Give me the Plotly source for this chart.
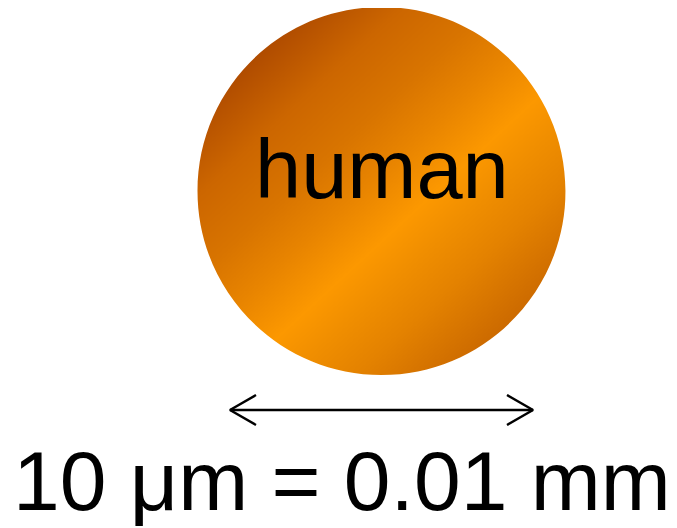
import numpy as np
import plotly.graph_objects as go

# ---- data ----
cell_labels = ["human"]
scale_length_um = [10]
scale_labels = ["10 μm = 0.01 mm"]

# ---- layout constants (pixels, in window coordinates) ----
W, H = 677, 528
OFF = 8  # page body margin
cx, cy, r = 381.5, 191.0, 184.0
px_per_um = 30.3
arrow_x0, arrow_y = 230.0, 410.0
head_dx, head_dy = 26.0, 15.0

fig = go.Figure()

# gradient disc via heatmap
N = 300
xs = np.linspace(cx - r, cx + r, N)
ys = np.linspace(cy - r, cy + r, N)
X, Y = np.meshgrid(xs, ys)
nx, ny = 0.677, 0.735
proj = (X - cx) * nx + (Y - cy) * ny
t = (proj + r) / (2 * r)
fig.add_trace(go.Heatmap(
    x=xs, y=ys, z=t, zmin=0, zmax=1, zsmooth="best", showscale=False,
    hoverinfo="skip",
    colorscale=[[0.0, "#B04C00"], [0.17, "#CC6600"], [0.33, "#D87400"],
                [0.46, "#E88400"], [0.6, "#FC9800"], [0.7, "#F08E00"],
                [0.82, "#E48200"], [1.0, "#CC6A00"]],
))

# white mask outside the circle (evenodd)
k = 0.5523 * r
circle = (f"M {cx-r},{cy} C {cx-r},{cy-k} {cx-k},{cy-r} {cx},{cy-r} "
          f"C {cx+k},{cy-r} {cx+r},{cy-k} {cx+r},{cy} "
          f"C {cx+r},{cy+k} {cx+k},{cy+r} {cx},{cy+r} "
          f"C {cx-k},{cy+r} {cx-r},{cy+k} {cx-r},{cy} Z")
pad = 4
rect = (f"M {cx-r-pad},{cy-r-pad} L {cx+r+pad},{cy-r-pad} "
        f"L {cx+r+pad},{cy+r+pad} L {cx-r-pad},{cy+r+pad} Z ")
fig.add_shape(type="path", path=rect + circle, fillcolor="white",
              fillrule="evenodd", line=dict(width=0), layer="above")

# scale arrow
x1 = arrow_x0 + scale_length_um[0] * px_per_um
line_kw = dict(mode="lines", line=dict(color="black", width=2.5),
               hoverinfo="skip", showlegend=False)
fig.add_trace(go.Scatter(x=[arrow_x0, x1], y=[arrow_y, arrow_y], **line_kw))
fig.add_trace(go.Scatter(x=[arrow_x0 + head_dx, arrow_x0, arrow_x0 + head_dx],
                         y=[arrow_y - head_dy, arrow_y, arrow_y + head_dy], **line_kw))
fig.add_trace(go.Scatter(x=[x1 - head_dx, x1, x1 - head_dx],
                         y=[arrow_y - head_dy, arrow_y, arrow_y + head_dy], **line_kw))

font = "Liberation Sans, Arial, sans-serif"
fig.add_annotation(x=cx, y=169, text=cell_labels[0], showarrow=False,
                   font=dict(family=font, size=83, color="black"),
                   xanchor="center", yanchor="middle")
fig.add_annotation(x=342, y=481, text=scale_labels[0], showarrow=False,
                   font=dict(family=font, size=84, color="black"),
                   xanchor="center", yanchor="middle")

fig.update_xaxes(range=[OFF, W], visible=False, fixedrange=True)
fig.update_yaxes(range=[H, OFF], visible=False, fixedrange=True)
fig.update_layout(width=W - OFF, height=H - OFF, margin=dict(l=0, r=0, t=0, b=0),
                  paper_bgcolor="white", plot_bgcolor="white", showlegend=False)

fig.write_html("out.html")
